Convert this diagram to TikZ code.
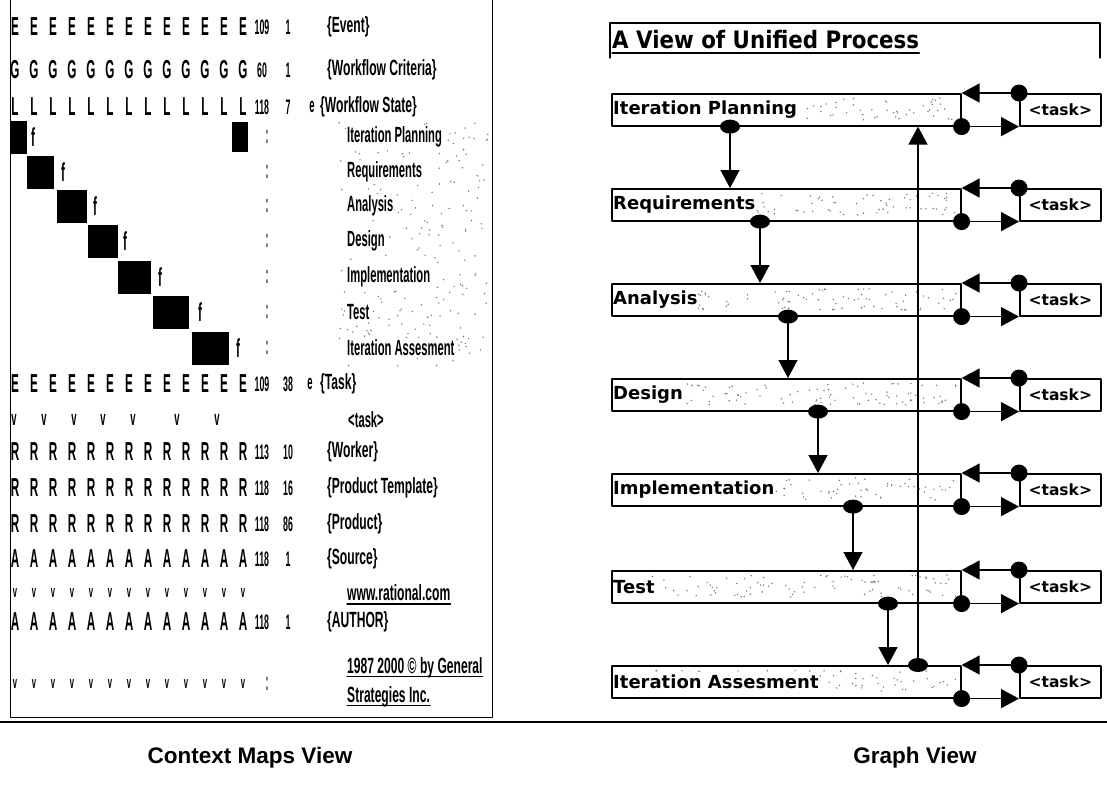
\documentclass[tikz,border=0pt]{standalone}
\usepackage{fontspec}
\setmainfont{Liberation Sans}
\newfontfamily\cellfont[FakeStretch=0.45]{Liberation Sans}
\newfontfamily\numfont[FakeStretch=0.42]{Liberation Sans}
\newfontfamily\tagfont[FakeStretch=0.55]{Liberation Sans}
\newfontfamily\phasefont[FakeStretch=0.51]{Liberation Sans}
\newfontfamily\graphfont{DejaVu Sans}
\newfontfamily\titlefont[FakeStretch=0.89]{DejaVu Sans}
\usetikzlibrary{arrows.meta,calc}

\tikzset{
	cell/.style={inner sep=0pt, font=\cellfont\bfseries\fontsize{26}{26}\selectfont},
	numcell/.style={inner sep=0pt, font=\numfont\bfseries\fontsize{21}{21}\selectfont},
	vmark/.style={inner sep=0pt, font=\cellfont\bfseries\fontsize{21}{21}\selectfont},
	smallv/.style={inner sep=0pt, font=\cellfont\bfseries\fontsize{17}{17}\selectfont},
	tag/.style={anchor=west, inner sep=0pt, font=\tagfont\bfseries\fontsize{22}{22}\selectfont},
	phase/.style={anchor=west, inner xsep=1pt, inner ysep=2pt, fill=white, font=\phasefont\bfseries\fontsize{22}{22}\selectfont},
	stage/.style={draw, line width=1.6pt, anchor=north west, minimum width=349pt, minimum height=32pt, inner sep=0pt},
	taskbox/.style={draw, line width=1.6pt, anchor=north west, minimum width=81pt, minimum height=32pt, inner sep=0pt, font=\graphfont\bfseries\fontsize{15.5}{15.5}\selectfont},
	stagelabel/.style={anchor=west, inner xsep=0.5pt, inner ysep=3pt, fill=white, font=\graphfont\bfseries\fontsize{18}{18}\selectfont},
	flow/.style={line width=1.4pt, -{Triangle[length=18pt,width=19pt]}},
	speck/.style={fill=black!55},
	uline/.style={line width=1.3pt},
}

\begin{document}
\begin{tikzpicture}[x=1pt,y=-1pt,line join=round,line cap=round]
	\useasboundingbox (0,0) rectangle (1107,793);
	\pgfmathsetseed{17}
	% context map panel
	\draw[line width=1pt] (10,0) -- (10,717) -- (492,717) -- (492,0);
	\draw[line width=2.6pt] (0,722) -- (1107,722);
	\foreach \k in {1,...,260}{
		\pgfmathsetmacro\rx{338+150*rnd}
		\pgfmathsetmacro\ry{118+248*rnd}
		\fill[speck] (\rx,\ry) circle (0.8pt);
	}
	\foreach \ch/\y/\n in {E/27/ev, G/70/wc, L/107/ws, E/384/tk, R/452/wk, R/488/pt, R/524/pr, A/559/sr, A/622/au}{
		\foreach \c in {0,...,12}
			\node[cell] (\n-\c) at ({15+19*\c},\y) {\ch};
	}
	\foreach \y/\p/\q/\tx/\lab/\n in {27/109/1/327/Event/ev, 70/60/1/327/Workflow Criteria/wc, 107/118/7/320/Workflow State/ws, 384/109/38/320/Task/tk, 452/113/10/327/Worker/wk, 488/118/16/327/Product Template/pt, 524/118/86/327/Product/pr, 559/118/1/327/Source/sr, 622/118/1/327/AUTHOR/au}{
		\node[numcell] (\n-p) at (262,\y) {\p};
		\node[numcell] (\n-q) at (288,\y) {\q};
		\node[tag] (\n-t) at (\tx,\y) {\{\lab\}};
	}
	\node[vmark] (ws-e) at (312,107) {e};
	\node[vmark] (tk-e) at (310,384) {e};
	% workflow states down the diagonal
	\foreach \lab/\y/\a/\b/\f [count=\i] in {Iteration Planning/137/10/27/33, Requirements/172/27/54/63, Analysis/206/57/87/95, Design/241/88/118/125, Implementation/277/118/151/160, Test/312/153/189/200, Iteration Assesment/348/192/229/238}{
		\fill (\a,{\y-16}) rectangle (\b,{\y+17});
		\node[cell] (f-\i) at (\f,\y) {f};
		\node[cell,text=black!60] (dd-\i) at (267,\y) {:};
		\node[phase] (ph-\i) at (346,\y) {\lab};
	}
	\fill (232,122) rectangle (248,152);
	\foreach \x [count=\i] in {14,44,74,103,133,177,217}
		\node[vmark] (tv-\i) at (\x,420) {v};
	\node[phase,anchor=center,fill=none] (tsk) at (366,420) {<task>};
	\foreach \c in {0,...,12}{
		\node[smallv] (wv-\c) at ({15+19*\c},593) {v};
		\node[smallv] (lv-\c) at ({15+19*\c},684) {v};
	}
	\node[cell,text=black!60] (dd-8) at (267,684) {:};
	\node[tag] (www) at (347,593) {www.rational.com};
	\node[tag] (cpy) at (347,668) {1987 2000 © by General};
	\node[tag] (inc) at (347,697) {Strategies Inc.};
	\foreach \n in {www,cpy,inc}
		\draw[uline] ($(\n.base west)+(0,3)$) -- ($(\n.base east)+(0,3)$);

	% graph panel
	\draw[line width=1.3pt] (610,58) -- (610,23) -- (1100,23) -- (1100,58);
	\node[anchor=west,inner sep=0pt,font=\titlefont\bfseries\fontsize{24}{24}\selectfont] (title) at (612,40) {A View of Unified Process};
	\draw[uline] ($(title.base west)+(0,4)$) -- ($(title.base east)+(0,4)$);
	\foreach \s/\y in {ip/93, rq/188, an/283, ds/378, im/473, ts/570, ia/665}{
		\node[stage] (\s) at (611,\y) {};
		\node[taskbox] (\s-task) at (1019,\y) {<task>};
	}
	\foreach \s in {ip,rq,an,ds,im,ts,ia}
		\foreach \k in {1,...,90}{
			\pgfmathsetmacro\rx{40+305*rnd}
			\pgfmathsetmacro\ry{5+22*rnd}
			\fill[speck] ($(\s.north west)+(\rx,\ry)$) circle (0.8pt);
		}
	\foreach \s/\lab in {ip/Iteration Planning, rq/Requirements, an/Analysis, ds/Design, im/Implementation, ts/Test, ia/Iteration Assesment}
		\node[stagelabel] (\s-l) at ($(\s.west)+(1.5,0)$) {\lab};
	\foreach \s in {ip,rq,an,ds,im,ts,ia}{
		\draw[flow] (\s-task.north west) -- (\s.north east);
		\draw[flow] (\s.south east) -- (\s-task.south west);
		\fill (\s-task.north west) circle (8.5pt);
		\fill (\s.south east) circle (8.5pt);
	}
	\foreach \a/\b/\dx in {ip/rq/119, rq/an/149, an/ds/177, ds/im/207, im/ts/242, ts/ia/277}{
		\coordinate (\a-out) at ($(\a.south west)+(\dx,0)$);
		\draw[flow] (\a-out) -- (\a-out |- \b.north);
		\fill (\a-out) ellipse [x radius=10pt, y radius=7pt];
	}
	% back to planning
	\coordinate (ia-back) at ($(ia.north west)+(307,0)$);
	\draw[flow] (ia-back) -- (ia-back |- ip.south);
	\fill (ia-back) ellipse [x radius=10pt, y radius=7pt];

	\node[font=\bfseries\fontsize{22.5}{22.5}\selectfont] (cap-l) at (250,758) {Context Maps View};
	\node[font=\bfseries\fontsize{22.5}{22.5}\selectfont] (cap-r) at (915,758) {Graph View};
\end{tikzpicture}
\end{document}
